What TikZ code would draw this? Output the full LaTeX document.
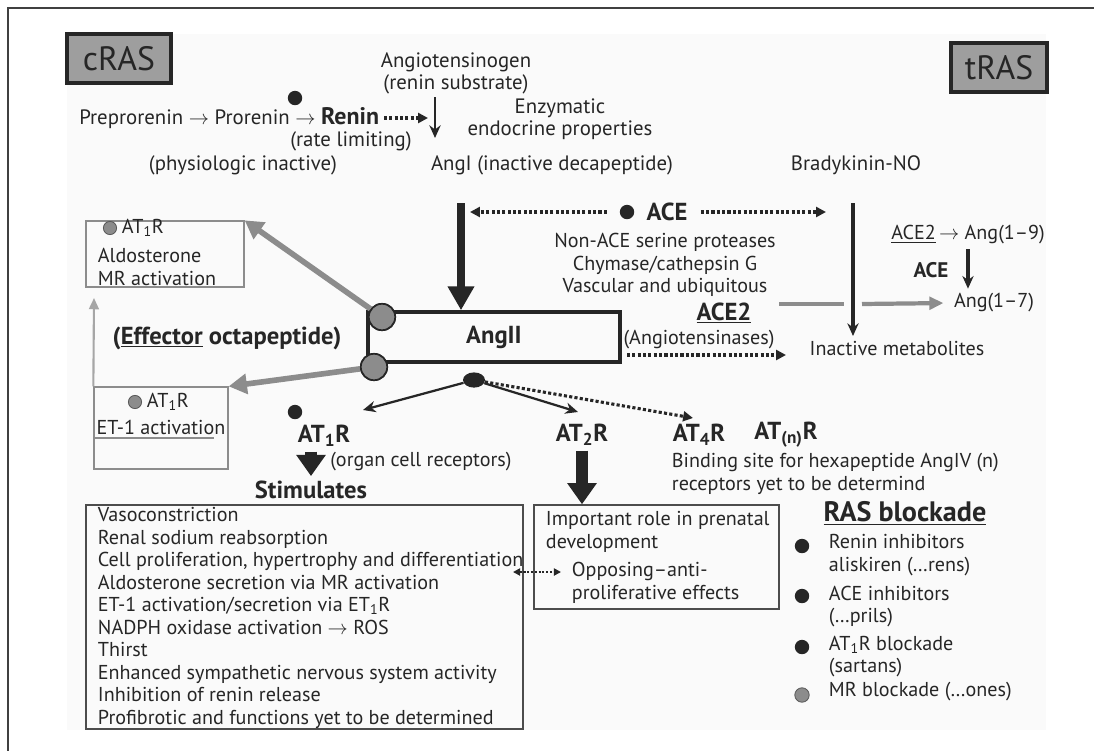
\documentclass[tikz,border=0pt]{standalone}
\usepackage{fontspec}
\setmainfont{PT Sans}
\usetikzlibrary{arrows.meta,shapes.geometric}

\begin{document}
\begin{tikzpicture}[
    x=0.025cm, y=-0.025cm,
    txt/.style={text=black!85, font=\fontsize{14.3}{16}\selectfont},
    toptxt/.style={text=black!85, font=\fontsize{14.8}{16}\selectfont},
    bold/.style={text=black!85, font=\fontsize{17.5}{19}\selectfont\bfseries},
    tag/.style={draw=black!85, line width=2.2pt, fill=black!38, text=black!85, minimum height=1.225cm, font=\fontsize{24}{26}\selectfont},
    thinbox/.style={draw=black!45, line width=0.9pt},
    listbox/.style={draw=black!70, line width=1pt},
    blackdot/.style={circle, fill=black!85, inner sep=0pt, minimum size=0.36cm},
    graydot/.style={circle, fill=black!45, draw=black!65, line width=0.6pt, inner sep=0pt, minimum size=0.33cm},
    hub/.style={circle, fill=black!45, draw=black!85, line width=1.2pt, inner sep=0pt, minimum size=0.66cm},
    arrow/.style={-{Stealth[length=9pt,width=8pt]}, line width=1.6pt, draw=black!85},
    dots/.style={-{Triangle[length=7pt,width=7pt]}, line width=2.2pt, dash pattern=on 2.2pt off 1.6pt, draw=black!85},
    fatarrow/.style={-{Triangle[length=17pt,width=18pt]}, line width=5pt, draw=black!85},
    blockarrow/.style={-{Triangle[length=15pt,width=20pt]}, line width=8pt, draw=black!85},
    grayarrow/.style={-{Triangle[length=13pt,width=14pt]}, line width=4pt, draw=black!45}
]
    \useasboundingbox (0,0) rectangle (1094,751);
    \fill[black!2] (67,34) rectangle (1046,730);
    \draw[line width=1.5pt, black!75] (8,751) -- (8,8) -- (1094,8);

    % corner tags
    \node[tag, minimum width=2.6cm] (crasbox) at (119,58.5) {cRAS};
    \node[tag, minimum width=2.4cm] (trasbox) at (999,67.5) {tRAS};

    % renin step
    \node[toptxt, align=center] (agen) at (456,73.5) {Angiotensinogen\\(renin substrate)};
    \node[blackdot] (dotrenin) at (295,98) {};
    \node[toptxt, anchor=east] (renin) at (384,118) {Preprorenin $\rightarrow$ Prorenin $\rightarrow$ {\fontsize{17}{18}\selectfont\bfseries Renin}};
    \node[toptxt] (ratelim) at (351,141) {(rate limiting)};
    \node[toptxt] (physio) at (243,165) {(physiologic inactive)};
    \node[toptxt, align=center] (enzym) at (560,119) {Enzymatic\\endocrine properties};
    \node[toptxt] (angI) at (552,165) {AngI (inactive decapeptide)};
    \node[toptxt] (brady) at (856,165) {Bradykinin-NO};
    \coordinate (reninhit) at (428,118);
    \coordinate (convtop) at (435,97);
    \coordinate (convbot) at (435,138);
    \draw[dots] (renin.east) -- (reninhit);
    \draw[arrow] (convtop) -- (convbot);

    % ACE step
    \node[draw=black!85, line width=2.5pt, minimum width=6.3cm, minimum height=1.25cm, bold] (angII) at (494,337) {AngII};
    \coordinate (angIdown) at (461,203);
    \draw[fatarrow] (angIdown) -- (angII.north -| angIdown);
    \node[blackdot] (dotace) at (627,212) {};
    \node[bold] (ace) at (667,212) {ACE};
    \coordinate (aceleft) at (470,212);
    \coordinate (aceright) at (826,212);
    \draw[dots, shorten <=9pt] (dotace.west) -- (aceleft);
    \draw[dots, shorten <=6pt] (ace.east) -- (aceright);
    \coordinate (bktop) at (853,203);
    \coordinate (bkbot) at (853,336);
    \draw[arrow, line width=2.2pt] (bktop) -- (bkbot);
    \node[txt, align=center] (nonace) at (665,265) {Non-ACE serine proteases\\Chymase/cathepsin G\\Vascular and ubiquitous};
    \node[bold] (ace2) at (724,313) {\underline{ACE2}};
    \node[txt] (ang19) at (968,235) {\underline{ACE2}\,$\rightarrow$ Ang(1--9)};
    \node[txt, font=\fontsize{15}{16}\selectfont\bfseries] (smallace) at (931,270) {ACE};
    \node[txt] (ang17) at (994,303) {Ang(1--7)};
    \draw[arrow, line width=3pt] (ang19.south) -- (ang19.south |- ang17.north);
    \coordinate (grayA) at (779,304);
    \coordinate (grayB) at (844,304);
    \coordinate (grayC) at (862,304);
    \draw[line width=3pt, black!45] (grayA) -- (grayB);
    \draw[-{Triangle[length=10pt,width=9pt]}, line width=3pt, black!45, shorten >=4pt] (grayC) -- (ang17.west);
    \node[txt] (angases) at (699,340) {(Angiotensinases)};
    \node[txt] (metab) at (897,348) {Inactive metabolites};
    \coordinate (angasesL) at (627,355);
    \coordinate (angasesR) at (786,355);
    \draw[dots] (angasesL) -- (angasesR);

    % effector side
    \node[bold] (effector) at (227,338) {(\underline{Effector} octapeptide)};
    \node[thinbox, minimum width=3.95cm, minimum height=1.65cm] (aldobox) at (165,254) {};
    \node[graydot] (dotaldo) at (110,228) {};
    \node[txt, anchor=west] (aldoat) at (117,228) {AT\textsubscript{1}R};
    \node[txt, anchor=west, align=left] (aldotxt) at (93,267) {Aldosterone\\MR activation};
    \node[thinbox, minimum width=3.35cm, minimum height=2.05cm] (et1box) at (161,428) {};
    \node[graydot] (dotet1) at (135,402) {};
    \node[txt, anchor=west] (et1at) at (142,402) {AT\textsubscript{1}R};
    \node[txt] (et1txt) at (161,427) {ET-1 activation};
    \coordinate (et1line) at (214,438);
    \draw[black!45, line width=1.5pt] (et1box.west |- et1line) -- (et1line);
    \coordinate (upmark) at (94,298);
    \draw[-{Triangle[length=8pt,width=7pt]}, line width=1.5pt, black!35] (et1box.north west) -- (upmark);
    \node[hub] (hubtop) at (382,317) {};
    \node[hub] (hubbot) at (374,367) {};
    \draw[grayarrow] (hubtop) -- (aldobox.north east);
    \draw[grayarrow] (hubbot) -- (et1box.north east);
    \node[hub] at (hubtop) {};
    \node[hub] at (hubbot) {};

    % receptors
    \node[ellipse, fill=black!85, inner sep=0pt, minimum width=0.55cm, minimum height=0.38cm] (split) at (474,380) {};
    \coordinate (at1tip) at (363,410);
    \coordinate (at2tip) at (578,412);
    \coordinate (at4tip) at (693,418);
    \draw[arrow] (split) -- (at1tip);
    \draw[arrow] (split) -- (at2tip);
    \draw[dots] (split) -- (at4tip);
    \node[blackdot] (dotat1) at (295,412) {};
    \node[bold] (at1) at (324,436) {AT\textsubscript{1}R};
    \node[bold] (stim) at (311,490) {Stimulates};
    \node[txt] (organ) at (421,462) {(organ cell receptors)};
    \draw[blockarrow] (stim.north |- at1.south) -- (stim.north);
    \node[bold] (at2) at (582,435) {AT\textsubscript{2}R};
    \node[bold] (at4) at (699,435) {AT\textsubscript{4}R};
    \node[bold] (atn) at (786,435) {AT\textsubscript{(n)}R};
    \node[txt, anchor=west, align=left] (binding) at (667,474) {Binding site for hexapeptide AngIV (n)\\receptors yet to be determind};

    % effect boxes
    \node[listbox, minimum width=10.925cm, minimum height=5.6cm] (stimbox) at (304.5,617) {};
    \node[txt, anchor=west, align=left] (stimtxt) at (93,618) {Vasoconstriction\\
        Renal sodium reabsorption\\
        Cell proliferation, hypertrophy and differentiation\\
        Aldosterone secretion via MR activation\\
        ET-1 activation/secretion via ET\textsubscript{1}R\\
        NADPH oxidase activation $\rightarrow$ ROS\\
        Thirst\\
        Enhanced sympathetic nervous system activity\\
        Inhibition of renin release\\
        Profibrotic and functions yet to be determined};
    \node[listbox, minimum width=6.125cm, minimum height=2.6cm] (at2box) at (656.5,557) {};
    \draw[blockarrow] (at2.south) -- (at2box.north -| at2.south);
    \node[txt, anchor=west, align=left] (prenat) at (541,532) {Important role in prenatal\\development};
    \node[txt, anchor=west, align=left] (oppose) at (567,583) {Opposing--anti-\\proliferative effects};
    \coordinate (oppL) at (513,572);
    \coordinate (oppR) at (561,572);
    \draw[dots, {Triangle[length=5pt,width=5pt]}-{Triangle[length=5pt,width=5pt]}, line width=1.5pt, dash pattern=on 1.5pt off 1.2pt] (oppL) -- (oppR);

    % blockade list
    \node[bold, font=\fontsize{20}{22}\selectfont\bfseries] (blockade) at (905,513) {\underline{RAS blockade}};
    \node[blackdot] (dotb1) at (802,546) {};
    \node[blackdot] (dotb2) at (802,596) {};
    \node[blackdot] (dotb3) at (802,647) {};
    \node[graydot, minimum size=0.36cm] (dotb4) at (802,695) {};
    \node[txt, anchor=west, align=left] (blk1) at (824,555) {Renin inhibitors\\aliskiren (…rens)};
    \node[txt, anchor=west, align=left] (blk2) at (824,606.5) {ACE inhibitors\\(…prils)};
    \node[txt, anchor=west, align=left] (blk3) at (824,656.5) {AT\textsubscript{1}R blockade\\(sartans)};
    \node[txt, anchor=west] (blk4) at (824,692) {MR blockade (…ones)};
\end{tikzpicture}
\end{document}
